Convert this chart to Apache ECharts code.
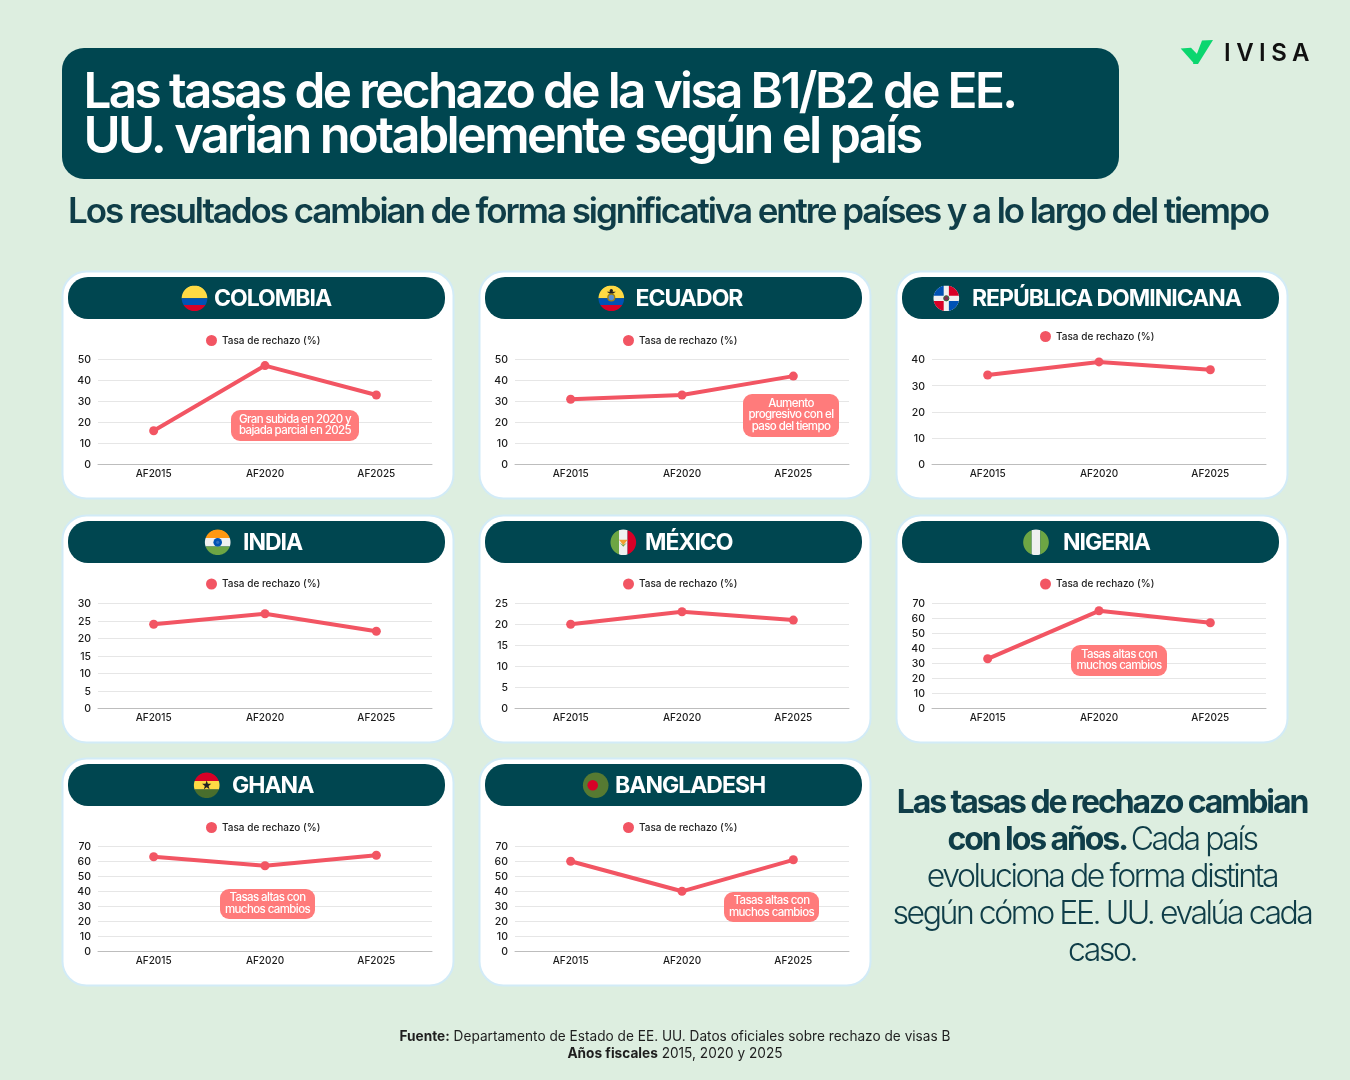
<!DOCTYPE html>
<html><head><meta charset="utf-8">
<style>html,body{margin:0;padding:0;background:#DDEEE0}#c{width:1350px;height:1080px}</style>
<script src="https://cdn.jsdelivr.net/npm/echarts@6/dist/echarts.min.js"></script>
</head><body><div id="c"></div>
<script>
const categories = ['AF2015','AF2020','AF2025'];
const seriesName = 'Tasa de rechazo (%)';
const countries = ['COLOMBIA','ECUADOR','REPÚBLICA DOMINICANA','INDIA','MÉXICO','NIGERIA','GHANA','BANGLADESH'];
const colombia = [16,47,33];
const ecuador = [31,33,42];
const dominicana = [34,39,36];
const india = [24,27,22];
const mexico = [20,23,21];
const nigeria = [33,65,57];
const ghana = [63,57,64];
const bangladesh = [60,40,61];
const allValues = [colombia,ecuador,dominicana,india,mexico,nigeria,ghana,bangladesh];
const axisMax = [50,50,40,30,25,70,70,70];
const axisStep = [10,10,10,5,5,10,10,10];

// tight tracking of the display type, by font size and weight
const tracking = {'600 49.5':-2.65,'600 50.5':-2.7,'600 35':-2.1,'700 32':-2.1,'300 32':-2.45,'700 23':-1.0,'500 11.5':-0.6,'600 24':5.5};
// small baseline correction for the value-axis labels
const nudge = {'500 10.5':1};
(function(){
  const P=CanvasRenderingContext2D.prototype;
  const key=f=>{const m=/(\d00|bold)\s+([\d.]+)px/.exec(f);return m?(m[1]==='bold'?'700':m[1])+' '+m[2]:'';};
  const origFill=P.fillText, origMeasure=P.measureText;
  P.fillText=function(s,x,y,w){
    const k=key(this.font);
    this.letterSpacing=(tracking[k]||0)+'px';
    const yy=y+(nudge[k]||0);
    if(w===undefined) origFill.call(this,s,x,yy); else origFill.call(this,s,x,yy,w);
    this.letterSpacing='0px';
  };
  P.measureText=function(s){
    this.letterSpacing=(tracking[key(this.font)]||0)+'px';
    const r=origMeasure.call(this,s);
    this.letterSpacing='0px';
    return r;
  };
})();

const FONT='Inter, "Noto Sans", sans-serif';
const DARK='#004650', INK='#0F3D48', RED='#F25563', NOTE='#FF7B7B';
const colX=[62,479,896], rowY=[271,515,758];
const G=[];
function txt(x,y,text,o={}){
  G.push({type:'text',x,y,scaleX:o.sx||1,scaleY:1,z:o.z||5,silent:true,style:{text,x:0,y:0,
    fill:o.fill||INK,fontFamily:FONT,fontSize:o.size||14,fontWeight:o.weight||400,
    align:o.align||'left',verticalAlign:'middle',lineHeight:o.lh,rich:o.rich}});
}
function rect(x,y,w,h,r,fill,o={}){
  G.push({type:'rect',z:o.z===undefined?-10:o.z,silent:true,shape:{x,y,width:w,height:h,r},
    style:{fill,stroke:o.stroke,lineWidth:o.lw}});
}
function clip(cx,cy,r,x1,x2,y1,y2,fill){
  const L=[],R=[];
  for(let y=Math.max(y1,cy-r);y<=Math.min(y2,cy+r)+1e-6;y+=0.2){
    const w=Math.sqrt(Math.max(0,r*r-(y-cy)*(y-cy)));
    const a=Math.max(x1,cx-w),b=Math.min(x2,cx+w);
    if(a<b){L.push([a,y]);R.unshift([b,y]);}
  }
  G.push({type:'polygon',z:1,silent:true,shape:{points:L.concat(R)},style:{fill}});
}
function disc(cx,cy,r,fill,o={}){
  G.push({type:'circle',z:2,silent:true,shape:{cx,cy,r},style:{fill,stroke:o.stroke,lineWidth:o.lw}});
}
function poly(points,fill,z=2){G.push({type:'polygon',z,silent:true,shape:{points},style:{fill}});}
const Y='#FFDA44',B='#0052B4',RR='#D80027',W='#F0F0F0',GN='#6DA544',R0=12.8,BIG=99;
const flags=[
 (c,d)=>{clip(c,d,R0,c-BIG,c+BIG,d-BIG,d,Y);clip(c,d,R0,c-BIG,c+BIG,d,d+6.6,B);clip(c,d,R0,c-BIG,c+BIG,d+6.6,d+BIG,RR);},
 (c,d)=>{clip(c,d,R0,c-BIG,c+BIG,d-BIG,d,Y);clip(c,d,R0,c-BIG,c+BIG,d,d+6.6,B);clip(c,d,R0,c-BIG,c+BIG,d+6.6,d+BIG,RR);
   poly([[c-4.5,d-6.5],[c+4.5,d-6.5],[c+1.5,d-4.5],[c-1.5,d-4.5]],'#222');disc(c,d-7.5,1.7,'#222');
   disc(c,d-0.8,3.4,'#5C8FD0',{stroke:'#A2800F',lw:1.3});},
 (c,d)=>{clip(c,d,R0,c-BIG,c+BIG,d-BIG,d+BIG,W);const t=2.6;
   clip(c,d,R0,c-BIG,c-t,d-BIG,d-t,B);clip(c,d,R0,c+t,c+BIG,d-BIG,d-t,RR);
   clip(c,d,R0,c-BIG,c-t,d+t,d+BIG,RR);clip(c,d,R0,c+t,c+BIG,d+t,d+BIG,B);
   disc(c,d,2.6,'#7A2E55',{stroke:'#2F6E3A',lw:1});},
 (c,d)=>{clip(c,d,R0,c-BIG,c+BIG,d-BIG,d-4.3,'#FF9811');clip(c,d,R0,c-BIG,c+BIG,d-4.3,d+4.3,W);clip(c,d,R0,c-BIG,c+BIG,d+4.3,d+BIG,GN);
   disc(c,d,4.3,B);disc(c,d,1.6,'#2F6FC0');},
 (c,d)=>{clip(c,d,R0,c-BIG,c-4.3,d-BIG,d+BIG,GN);clip(c,d,R0,c-4.3,c+4.3,d-BIG,d+BIG,W);clip(c,d,R0,c+4.3,c+BIG,d-BIG,d+BIG,RR);
   poly([[c-4.3,d-2.5],[c+4.3,d-2.5],[c,d+3]],'#F0A030');poly([[c-3.6,d+0.5],[c,d+4.5],[c+3.6,d+0.5],[c,d+2.6]],'#6DA544');},
 (c,d)=>{clip(c,d,R0,c-BIG,c-4.3,d-BIG,d+BIG,GN);clip(c,d,R0,c-4.3,c+4.3,d-BIG,d+BIG,W);clip(c,d,R0,c+4.3,c+BIG,d-BIG,d+BIG,GN);},
 (c,d)=>{clip(c,d,R0,c-BIG,c+BIG,d-BIG,d-4.3,RR);clip(c,d,R0,c-BIG,c+BIG,d-4.3,d+4.3,Y);clip(c,d,R0,c-BIG,c+BIG,d+4.3,d+BIG,'#496E2D');
   G.push({type:'polygon',z:2,silent:true,shape:{points:[0,1,2,3,4,5,6,7,8,9].map(i=>{const a=-Math.PI/2+i*Math.PI/5,q=i%2?2:4.8;return [c+q*Math.cos(a),d+q*Math.sin(a)];})},style:{fill:'#222'}});},
 (c,d)=>{disc(c,d,R0,'#567A32');disc(c-3,d,5.3,RR);}
];
const flagX=[194.5,611.3,946.3,217.7,623.3,1036,206.7,595.7];
const nameX=[214,635.5,972,243,645,1063,232,615];
const legendY=[341,341,337,584.5,584.5,584.5,828,828];

const grid=[],xAxis=[],yAxis=[],series=[],legend=[];
countries.forEach((name,i)=>{
  const col=i%3,row=Math.floor(i/3),px=colX[col],py=rowY[row];
  rect(px+0.5,py+0.5,391,227,24,'#FFFFFF',{stroke:'#D2EBF7',lw:2});
  rect(px+6,py+6,377,42,20,DARK,{z:0});
  flags[i](flagX[i],py+27.3);
  txt(nameX[i],py+28,name,{fill:'#FFFFFF',size:23,weight:700});
  const top=py+88.3;
  grid.push({left:px+36,top,width:334,height:105,containLabel:false});
  xAxis.push({type:'category',gridIndex:i,data:categories,
    axisTick:{show:false},axisLine:{lineStyle:{color:'#BDBDBD',width:1}},
    axisLabel:{fontFamily:FONT,fontSize:10,fontWeight:500,color:'#1A1A1A',margin:5}});
  yAxis.push({type:'value',gridIndex:i,min:0,max:axisMax[i],interval:axisStep[i],
    axisLine:{show:false},axisTick:{show:false},splitLine:{lineStyle:{color:'#E6E6E6',width:1}},
    axisLabel:{fontFamily:FONT,fontSize:10.5,fontWeight:500,color:'#1A1A1A',margin:7}});
  series.push({type:'line',name:seriesName,xAxisIndex:i,yAxisIndex:i,data:allValues[i],
    symbol:'circle',symbolSize:9,showSymbol:true,animation:false,
    lineStyle:{color:RED,width:4},itemStyle:{color:RED},emphasis:{disabled:true}});
  legend.push({show:true,left:px+144,top:legendY[i]-6,itemWidth:11,itemHeight:11,icon:'circle',itemGap:4,
    selectedMode:false,padding:0,data:[{name:seriesName,itemStyle:{color:RED}}],
    textStyle:{fontFamily:FONT,fontSize:10,fontWeight:500,color:'#222',padding:[0,0,0,0]}});
});

// header
rect(62,48,1057,131,22,DARK);
txt(83.5,93.5,'Las tasas de rechazo de la visa B1/B2 de EE.',{fill:'#FFFFFF',size:49.5,weight:600});
txt(83.5,137.5,'UU. varian notablemente según el país',{fill:'#FFFFFF',size:50.5,weight:600});
txt(668,212,'Los resultados cambian de forma significativa entre países y a lo largo del tiempo',{size:35,weight:600,align:'center',fill:INK});

// logo
poly([[1202,40.5],[1213,40],[1198,64],[1193,64]],'#0BD66F');
poly([[1180.7,48.5],[1191,47.8],[1198,55],[1194,63.5]],'#0BD66F');
txt(1224,54,'IVISA',{fill:'#111',size:24,weight:600});

// notes on the charts
function note(x,y,w,h,text){
  rect(x,y,w,h,9,NOTE,{z:10});
  txt(x+w/2,y+h/2-0.5,text,{fill:'#FFFFFF',size:11.5,weight:500,align:'center',lh:11.5,z:11});
}
note(231,410,128,31,'Gran subida en 2020 y\nbajada parcial en 2025');
note(743,394,96,43,'Aumento\nprogresivo con el\npaso del tiempo');
note(1071,645,96,31,'Tasas altas con\nmuchos cambios');
note(220,889,95,30,'Tasas altas con\nmuchos cambios');
note(724,892,95,30,'Tasas altas con\nmuchos cambios');

// side text
txt(1102,877,'{b|Las tasas de rechazo cambian}\n{b|con los años.} {r|Cada país}\n{r|evoluciona de forma distinta}\n{r|según cómo EE. UU. evalúa cada}\n{r|caso.}',
 {align:'center',rich:{
   b:{fontFamily:FONT,fontSize:32,fontWeight:700,fill:INK,lineHeight:37},
   r:{fontFamily:FONT,fontSize:32,fontWeight:300,fill:INK,lineHeight:37}}});

// source
txt(675,1045.5,'{b|Fuente:} {r|Departamento de Estado de EE. UU. Datos oficiales sobre rechazo de visas B}\n{b|Años fiscales} {r|2015, 2020 y 2025}',
 {align:'center',sx:0.975,fill:'#1E1E1E',rich:{
   b:{fontFamily:FONT,fontSize:14,fontWeight:700,fill:'#1E1E1E',lineHeight:17},
   r:{fontFamily:FONT,fontSize:14,fontWeight:400,fill:'#1E1E1E',lineHeight:17}}});

const chart=echarts.init(document.getElementById('c'),null,{renderer:'canvas',width:1350,height:1080});
chart.setOption({backgroundColor:'#DDEEE0',animation:false,grid,xAxis,yAxis,series,legend,graphic:{elements:G}});
</script></body></html>
